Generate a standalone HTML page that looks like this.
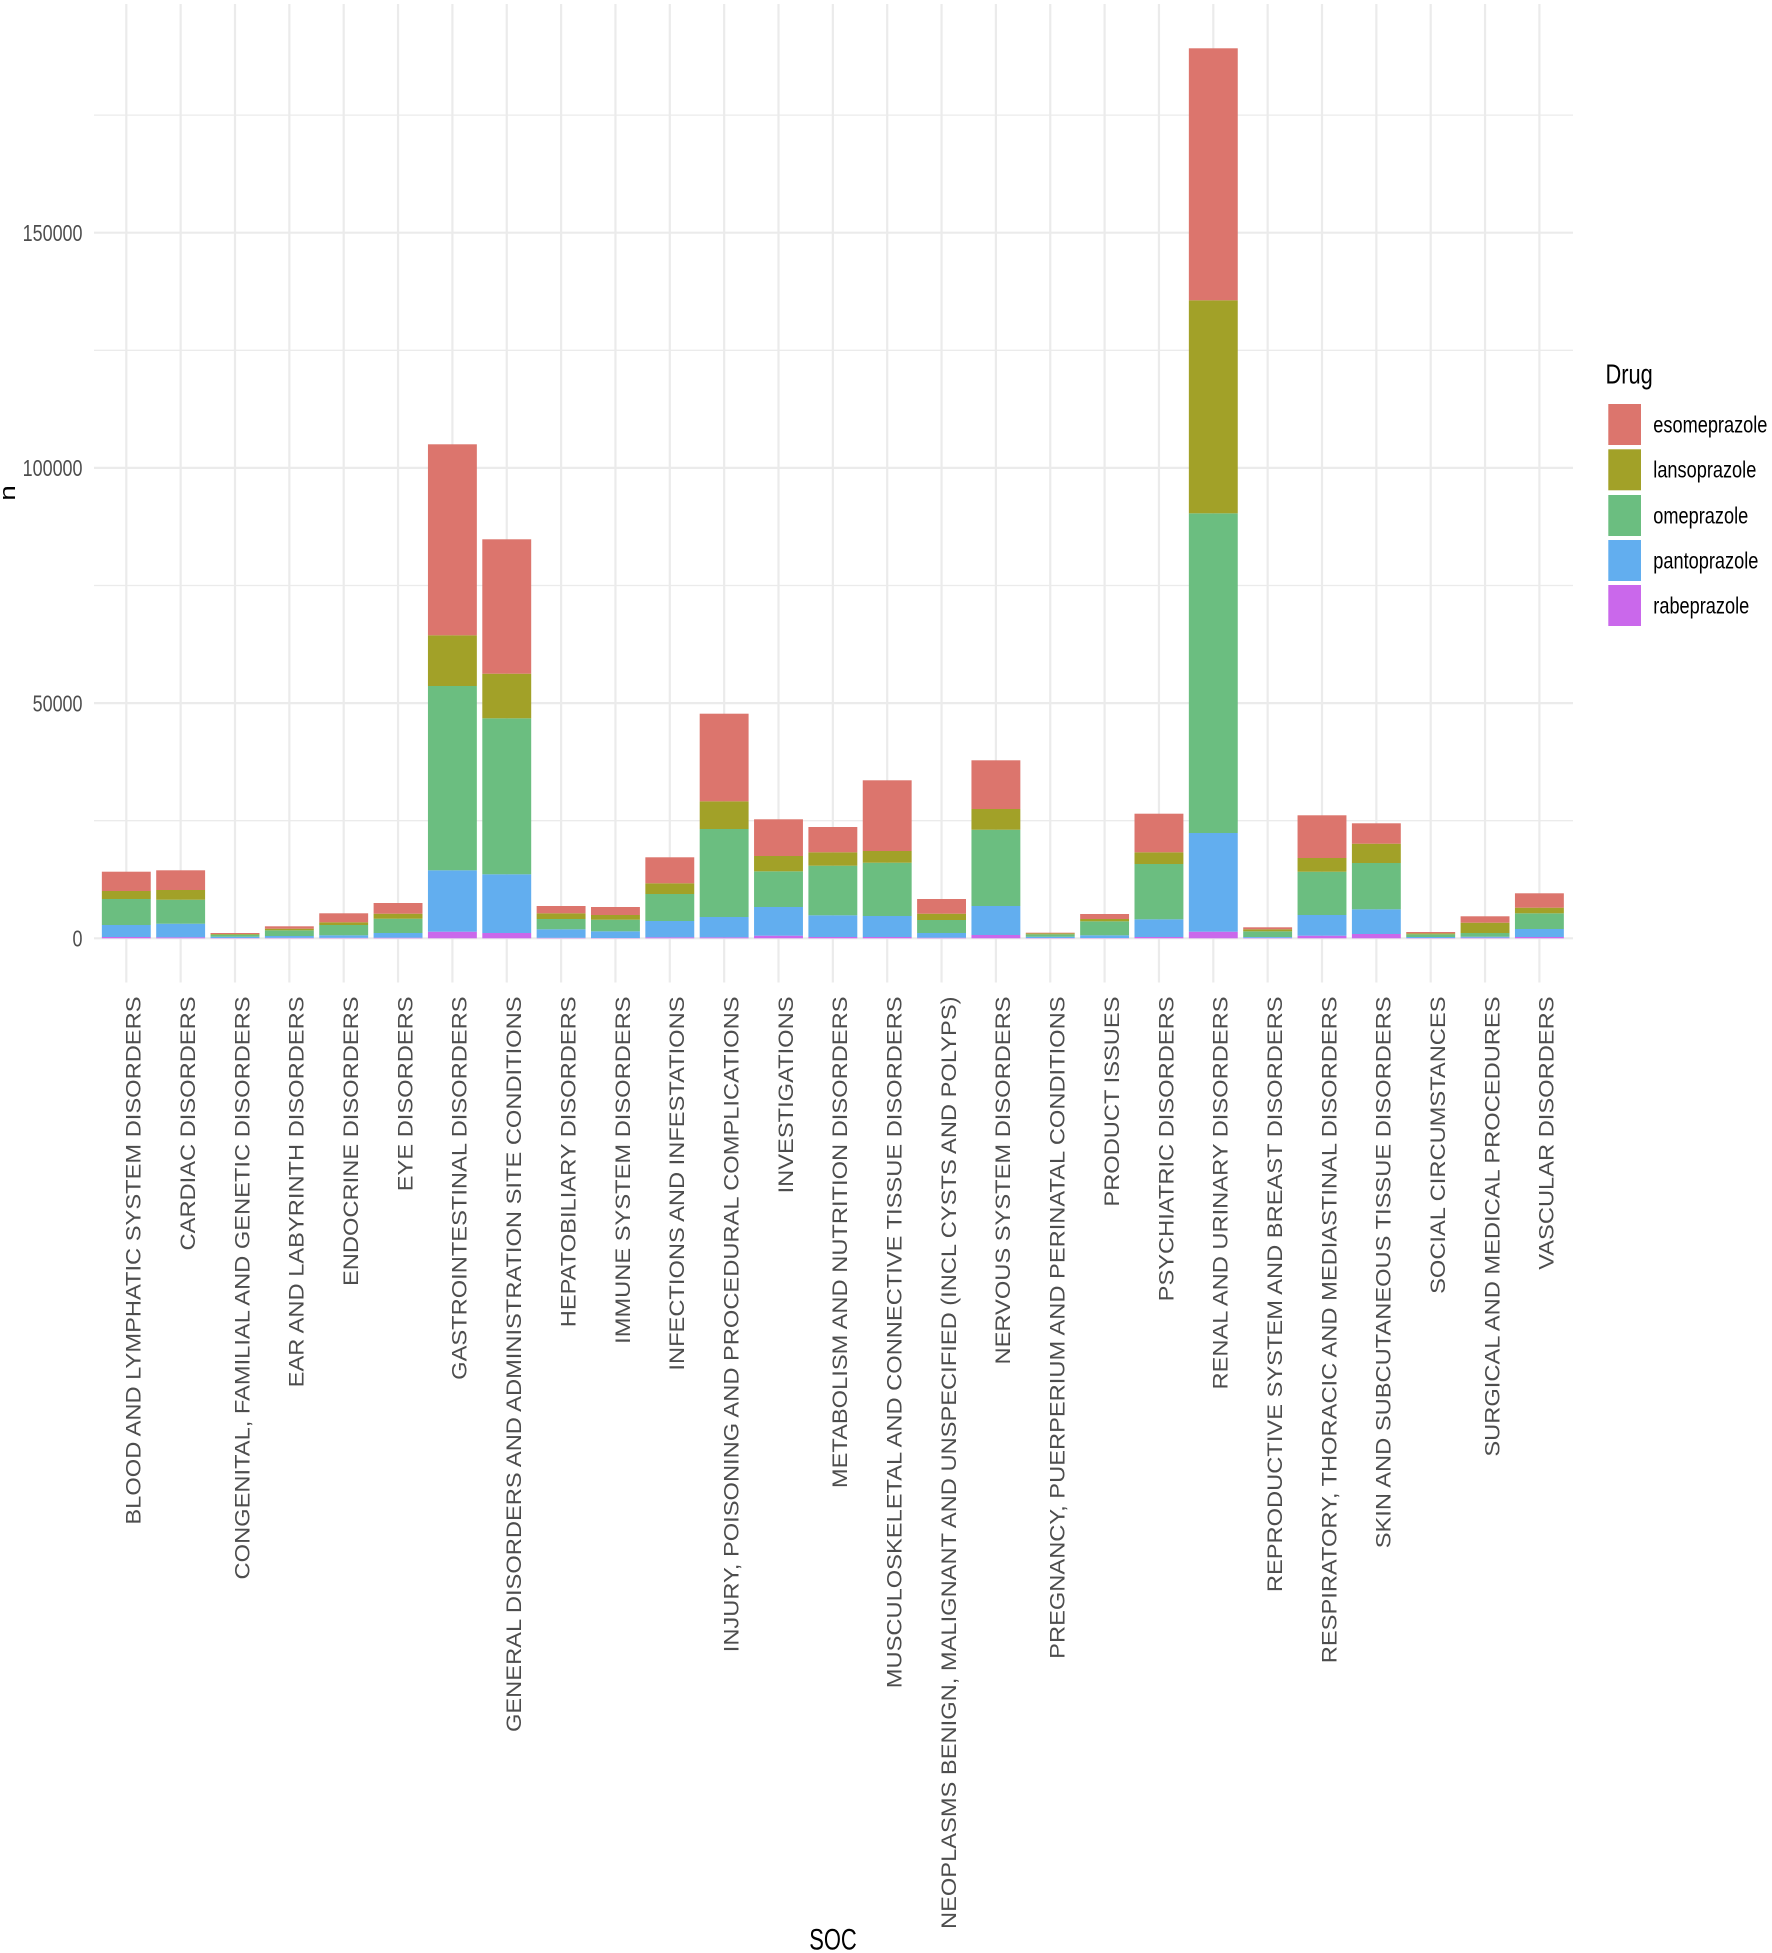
<!DOCTYPE html>
<html>
<head>
<meta charset="utf-8">
<style>
html,body{margin:0;padding:0;background:#fff;}
svg{display:block;}
text{font-family:"Liberation Sans",Arial,sans-serif;}
</style>
</head>
<body>
<svg width="1772" height="1953" viewBox="0 0 1772 1953" xmlns="http://www.w3.org/2000/svg">
<rect x="0" y="0" width="1772" height="1953" fill="#ffffff"/>
<!-- minor horizontal gridlines -->
<g stroke="#EBEBEB" stroke-width="1.3">
<line x1="94" x2="1573" y1="820.7" y2="820.7"/>
<line x1="94" x2="1573" y1="585.5" y2="585.5"/>
<line x1="94" x2="1573" y1="350.3" y2="350.3"/>
<line x1="94" x2="1573" y1="115.1" y2="115.1"/>
</g>
<!-- major horizontal gridlines -->
<g stroke="#EBEBEB" stroke-width="2.2">
<line x1="94" x2="1573" y1="938.3" y2="938.3"/>
<line x1="94" x2="1573" y1="703.1" y2="703.1"/>
<line x1="94" x2="1573" y1="467.9" y2="467.9"/>
<line x1="94" x2="1573" y1="232.7" y2="232.7"/>
</g>
<!-- vertical gridlines -->
<g stroke="#EBEBEB" stroke-width="2.2">
<line y1="4" y2="982.5" x1="126.3" x2="126.3"/>
<line y1="4" y2="982.5" x1="180.65" x2="180.65"/>
<line y1="4" y2="982.5" x1="235" x2="235"/>
<line y1="4" y2="982.5" x1="289.35" x2="289.35"/>
<line y1="4" y2="982.5" x1="343.7" x2="343.7"/>
<line y1="4" y2="982.5" x1="398.05" x2="398.05"/>
<line y1="4" y2="982.5" x1="452.4" x2="452.4"/>
<line y1="4" y2="982.5" x1="506.75" x2="506.75"/>
<line y1="4" y2="982.5" x1="561.1" x2="561.1"/>
<line y1="4" y2="982.5" x1="615.45" x2="615.45"/>
<line y1="4" y2="982.5" x1="669.8" x2="669.8"/>
<line y1="4" y2="982.5" x1="724.15" x2="724.15"/>
<line y1="4" y2="982.5" x1="778.5" x2="778.5"/>
<line y1="4" y2="982.5" x1="832.85" x2="832.85"/>
<line y1="4" y2="982.5" x1="887.2" x2="887.2"/>
<line y1="4" y2="982.5" x1="941.55" x2="941.55"/>
<line y1="4" y2="982.5" x1="995.9" x2="995.9"/>
<line y1="4" y2="982.5" x1="1050.25" x2="1050.25"/>
<line y1="4" y2="982.5" x1="1104.6" x2="1104.6"/>
<line y1="4" y2="982.5" x1="1158.95" x2="1158.95"/>
<line y1="4" y2="982.5" x1="1213.3" x2="1213.3"/>
<line y1="4" y2="982.5" x1="1267.65" x2="1267.65"/>
<line y1="4" y2="982.5" x1="1322" x2="1322"/>
<line y1="4" y2="982.5" x1="1376.35" x2="1376.35"/>
<line y1="4" y2="982.5" x1="1430.7" x2="1430.7"/>
<line y1="4" y2="982.5" x1="1485.05" x2="1485.05"/>
<line y1="4" y2="982.5" x1="1539.4" x2="1539.4"/>
</g>

<!-- bars (flipped coords: y = value from baseline) -->
<g transform="matrix(1 0 0 -1 0 938.3)">
<!-- 1 -->
<rect x="101.85" width="48.9" y="0" height="1.3" fill="#CA68EB"/>
<rect x="101.85" width="48.9" y="1.3" height="12" fill="#62AEEF"/>
<rect x="101.85" width="48.9" y="13.3" height="26" fill="#6BBE80"/>
<rect x="101.85" width="48.9" y="39.3" height="8" fill="#A2A128"/>
<rect x="101.85" width="48.9" y="47.3" height="19.3" fill="#DC756D"/>
<!-- 2 -->
<rect x="156.2" width="48.9" y="0" height="1" fill="#CA68EB"/>
<rect x="156.2" width="48.9" y="1" height="13.6" fill="#62AEEF"/>
<rect x="156.2" width="48.9" y="14.6" height="24" fill="#6BBE80"/>
<rect x="156.2" width="48.9" y="38.6" height="9.7" fill="#A2A128"/>
<rect x="156.2" width="48.9" y="48.3" height="19.7" fill="#DC756D"/>
<!-- 3 -->
<rect x="210.55" width="48.9" y="0" height="0.3" fill="#CA68EB"/>
<rect x="210.55" width="48.9" y="0.3" height="1.3" fill="#62AEEF"/>
<rect x="210.55" width="48.9" y="1.6" height="2" fill="#6BBE80"/>
<rect x="210.55" width="48.9" y="3.6" height="0.7" fill="#A2A128"/>
<rect x="210.55" width="48.9" y="4.3" height="1" fill="#DC756D"/>
<!-- 4 -->
<rect x="264.9" width="48.9" y="0" height="0.5" fill="#CA68EB"/>
<rect x="264.9" width="48.9" y="0.5" height="1.8" fill="#62AEEF"/>
<rect x="264.9" width="48.9" y="2.3" height="5.7" fill="#6BBE80"/>
<rect x="264.9" width="48.9" y="8" height="1.6" fill="#A2A128"/>
<rect x="264.9" width="48.9" y="9.6" height="2.4" fill="#DC756D"/>
<!-- 5 -->
<rect x="319.25" width="48.9" y="0" height="0.5" fill="#CA68EB"/>
<rect x="319.25" width="48.9" y="0.5" height="2.5" fill="#62AEEF"/>
<rect x="319.25" width="48.9" y="3" height="10.3" fill="#6BBE80"/>
<rect x="319.25" width="48.9" y="13.3" height="2.7" fill="#A2A128"/>
<rect x="319.25" width="48.9" y="16" height="9" fill="#DC756D"/>
<!-- 6 -->
<rect x="373.6" width="48.9" y="0" height="0.6" fill="#CA68EB"/>
<rect x="373.6" width="48.9" y="0.6" height="4.7" fill="#62AEEF"/>
<rect x="373.6" width="48.9" y="5.3" height="14.3" fill="#6BBE80"/>
<rect x="373.6" width="48.9" y="19.6" height="5" fill="#A2A128"/>
<rect x="373.6" width="48.9" y="24.6" height="10.7" fill="#DC756D"/>
<!-- 7 -->
<rect x="427.95" width="48.9" y="0" height="6.6" fill="#CA68EB"/>
<rect x="427.95" width="48.9" y="6.6" height="61.4" fill="#62AEEF"/>
<rect x="427.95" width="48.9" y="68" height="184.3" fill="#6BBE80"/>
<rect x="427.95" width="48.9" y="252.3" height="50.7" fill="#A2A128"/>
<rect x="427.95" width="48.9" y="303" height="191" fill="#DC756D"/>
<!-- 8 -->
<rect x="482.3" width="48.9" y="0" height="5.3" fill="#CA68EB"/>
<rect x="482.3" width="48.9" y="5.3" height="58.7" fill="#62AEEF"/>
<rect x="482.3" width="48.9" y="64" height="156" fill="#6BBE80"/>
<rect x="482.3" width="48.9" y="220" height="44.6" fill="#A2A128"/>
<rect x="482.3" width="48.9" y="264.6" height="134.4" fill="#DC756D"/>
<!-- 9 -->
<rect x="536.65" width="48.9" y="0" height="0.5" fill="#CA68EB"/>
<rect x="536.65" width="48.9" y="0.5" height="8.5" fill="#62AEEF"/>
<rect x="536.65" width="48.9" y="9" height="10.3" fill="#6BBE80"/>
<rect x="536.65" width="48.9" y="19.3" height="5.7" fill="#A2A128"/>
<rect x="536.65" width="48.9" y="25" height="7.3" fill="#DC756D"/>
<!-- 10 -->
<rect x="591" width="48.9" y="0" height="0.3" fill="#CA68EB"/>
<rect x="591" width="48.9" y="0.3" height="6.7" fill="#62AEEF"/>
<rect x="591" width="48.9" y="7" height="11.6" fill="#6BBE80"/>
<rect x="591" width="48.9" y="18.6" height="4.7" fill="#A2A128"/>
<rect x="591" width="48.9" y="23.3" height="8" fill="#DC756D"/>
<!-- 11 -->
<rect x="645.35" width="48.9" y="0" height="1" fill="#CA68EB"/>
<rect x="645.35" width="48.9" y="1" height="16.3" fill="#62AEEF"/>
<rect x="645.35" width="48.9" y="17.3" height="27" fill="#6BBE80"/>
<rect x="645.35" width="48.9" y="44.3" height="10.7" fill="#A2A128"/>
<rect x="645.35" width="48.9" y="55" height="26" fill="#DC756D"/>
<!-- 12 -->
<rect x="699.7" width="48.9" y="0" height="1" fill="#CA68EB"/>
<rect x="699.7" width="48.9" y="1" height="20.3" fill="#62AEEF"/>
<rect x="699.7" width="48.9" y="21.3" height="88" fill="#6BBE80"/>
<rect x="699.7" width="48.9" y="109.3" height="27.7" fill="#A2A128"/>
<rect x="699.7" width="48.9" y="137" height="87.6" fill="#DC756D"/>
<!-- 13 -->
<rect x="754.05" width="48.9" y="0" height="2.6" fill="#CA68EB"/>
<rect x="754.05" width="48.9" y="2.6" height="28.7" fill="#62AEEF"/>
<rect x="754.05" width="48.9" y="31.3" height="35.7" fill="#6BBE80"/>
<rect x="754.05" width="48.9" y="67" height="15.3" fill="#A2A128"/>
<rect x="754.05" width="48.9" y="82.3" height="36.7" fill="#DC756D"/>
<!-- 14 -->
<rect x="808.4" width="48.9" y="0" height="1.3" fill="#CA68EB"/>
<rect x="808.4" width="48.9" y="1.3" height="21.7" fill="#62AEEF"/>
<rect x="808.4" width="48.9" y="23" height="49.6" fill="#6BBE80"/>
<rect x="808.4" width="48.9" y="72.6" height="13.4" fill="#A2A128"/>
<rect x="808.4" width="48.9" y="86" height="25.3" fill="#DC756D"/>
<!-- 15 -->
<rect x="862.75" width="48.9" y="0" height="1.3" fill="#CA68EB"/>
<rect x="862.75" width="48.9" y="1.3" height="21" fill="#62AEEF"/>
<rect x="862.75" width="48.9" y="22.3" height="53.3" fill="#6BBE80"/>
<rect x="862.75" width="48.9" y="75.6" height="11.7" fill="#A2A128"/>
<rect x="862.75" width="48.9" y="87.3" height="70.7" fill="#DC756D"/>
<!-- 16 -->
<rect x="917.1" width="48.9" y="0" height="0.6" fill="#CA68EB"/>
<rect x="917.1" width="48.9" y="0.6" height="4.7" fill="#62AEEF"/>
<rect x="917.1" width="48.9" y="5.3" height="13" fill="#6BBE80"/>
<rect x="917.1" width="48.9" y="18.3" height="6.3" fill="#A2A128"/>
<rect x="917.1" width="48.9" y="24.6" height="14.7" fill="#DC756D"/>
<!-- 17 -->
<rect x="971.45" width="48.9" y="0" height="3.3" fill="#CA68EB"/>
<rect x="971.45" width="48.9" y="3.3" height="29" fill="#62AEEF"/>
<rect x="971.45" width="48.9" y="32.3" height="76.3" fill="#6BBE80"/>
<rect x="971.45" width="48.9" y="108.6" height="20.7" fill="#A2A128"/>
<rect x="971.45" width="48.9" y="129.3" height="48.7" fill="#DC756D"/>
<!-- 18 -->
<rect x="1025.8" width="48.9" y="0" height="0.3" fill="#CA68EB"/>
<rect x="1025.8" width="48.9" y="0.3" height="1.3" fill="#62AEEF"/>
<rect x="1025.8" width="48.9" y="1.6" height="2.4" fill="#6BBE80"/>
<rect x="1025.8" width="48.9" y="4" height="1" fill="#A2A128"/>
<rect x="1025.8" width="48.9" y="5" height="0.6" fill="#DC756D"/>
<!-- 19 -->
<rect x="1080.15" width="48.9" y="0" height="0.3" fill="#CA68EB"/>
<rect x="1080.15" width="48.9" y="0.3" height="2.7" fill="#62AEEF"/>
<rect x="1080.15" width="48.9" y="3" height="14" fill="#6BBE80"/>
<rect x="1080.15" width="48.9" y="17" height="2.3" fill="#A2A128"/>
<rect x="1080.15" width="48.9" y="19.3" height="5" fill="#DC756D"/>
<!-- 20 -->
<rect x="1134.5" width="48.9" y="0" height="1.3" fill="#CA68EB"/>
<rect x="1134.5" width="48.9" y="1.3" height="17.7" fill="#62AEEF"/>
<rect x="1134.5" width="48.9" y="19" height="55.3" fill="#6BBE80"/>
<rect x="1134.5" width="48.9" y="74.3" height="11.7" fill="#A2A128"/>
<rect x="1134.5" width="48.9" y="86" height="38.6" fill="#DC756D"/>
<!-- 21 -->
<rect x="1188.85" width="48.9" y="0" height="6.6" fill="#CA68EB"/>
<rect x="1188.85" width="48.9" y="6.6" height="98.7" fill="#62AEEF"/>
<rect x="1188.85" width="48.9" y="105.3" height="319.7" fill="#6BBE80"/>
<rect x="1188.85" width="48.9" y="425" height="213" fill="#A2A128"/>
<rect x="1188.85" width="48.9" y="638" height="252" fill="#DC756D"/>
<!-- 22 -->
<rect x="1243.2" width="48.9" y="0" height="0.5" fill="#CA68EB"/>
<rect x="1243.2" width="48.9" y="0.5" height="0.8" fill="#62AEEF"/>
<rect x="1243.2" width="48.9" y="1.3" height="5.7" fill="#6BBE80"/>
<rect x="1243.2" width="48.9" y="7" height="2" fill="#A2A128"/>
<rect x="1243.2" width="48.9" y="9" height="2" fill="#DC756D"/>
<!-- 23 -->
<rect x="1297.55" width="48.9" y="0" height="2.6" fill="#CA68EB"/>
<rect x="1297.55" width="48.9" y="2.6" height="20.7" fill="#62AEEF"/>
<rect x="1297.55" width="48.9" y="23.3" height="43.3" fill="#6BBE80"/>
<rect x="1297.55" width="48.9" y="66.6" height="13.7" fill="#A2A128"/>
<rect x="1297.55" width="48.9" y="80.3" height="42.7" fill="#DC756D"/>
<!-- 24 -->
<rect x="1351.9" width="48.9" y="0" height="4.3" fill="#CA68EB"/>
<rect x="1351.9" width="48.9" y="4.3" height="24.7" fill="#62AEEF"/>
<rect x="1351.9" width="48.9" y="29" height="46.3" fill="#6BBE80"/>
<rect x="1351.9" width="48.9" y="75.3" height="19.3" fill="#A2A128"/>
<rect x="1351.9" width="48.9" y="94.6" height="20.4" fill="#DC756D"/>
<!-- 25 -->
<rect x="1406.25" width="48.9" y="0" height="0.3" fill="#CA68EB"/>
<rect x="1406.25" width="48.9" y="0.3" height="1" fill="#62AEEF"/>
<rect x="1406.25" width="48.9" y="1.3" height="2.7" fill="#6BBE80"/>
<rect x="1406.25" width="48.9" y="4" height="1" fill="#A2A128"/>
<rect x="1406.25" width="48.9" y="5" height="1.3" fill="#DC756D"/>
<!-- 26 -->
<rect x="1460.6" width="48.9" y="0" height="0.6" fill="#CA68EB"/>
<rect x="1460.6" width="48.9" y="0.6" height="1" fill="#62AEEF"/>
<rect x="1460.6" width="48.9" y="1.6" height="3.7" fill="#6BBE80"/>
<rect x="1460.6" width="48.9" y="5.3" height="10.3" fill="#A2A128"/>
<rect x="1460.6" width="48.9" y="15.6" height="6.4" fill="#DC756D"/>
<!-- 27 -->
<rect x="1514.95" width="48.9" y="0" height="1.3" fill="#CA68EB"/>
<rect x="1514.95" width="48.9" y="1.3" height="8" fill="#62AEEF"/>
<rect x="1514.95" width="48.9" y="9.3" height="15.7" fill="#6BBE80"/>
<rect x="1514.95" width="48.9" y="25" height="5.6" fill="#A2A128"/>
<rect x="1514.95" width="48.9" y="30.6" height="14.4" fill="#DC756D"/>
</g>

<!-- y tick labels -->
<g fill="#4D4D4D" font-size="23.3" text-anchor="end">
<text transform="translate(82.5,946.6) scale(0.77,1)">0</text>
<text transform="translate(82.5,711.4) scale(0.77,1)">50000</text>
<text transform="translate(82.5,476.2) scale(0.77,1)">100000</text>
<text transform="translate(82.5,241) scale(0.77,1)">150000</text>
</g>

<!-- x tick labels -->
<g fill="#4D4D4D" font-size="23.7" text-anchor="end">
<text transform="translate(140.6,996.5) rotate(-90) scale(1,0.91)">BLOOD AND LYMPHATIC SYSTEM DISORDERS</text>
<text transform="translate(194.95,996.5) rotate(-90) scale(1,0.91)">CARDIAC DISORDERS</text>
<text transform="translate(249.3,996.5) rotate(-90) scale(1,0.91)">CONGENITAL, FAMILIAL AND GENETIC DISORDERS</text>
<text transform="translate(303.65,996.5) rotate(-90) scale(1,0.91)">EAR AND LABYRINTH DISORDERS</text>
<text transform="translate(358,996.5) rotate(-90) scale(1,0.91)">ENDOCRINE DISORDERS</text>
<text transform="translate(412.35,996.5) rotate(-90) scale(1,0.91)">EYE DISORDERS</text>
<text transform="translate(466.7,996.5) rotate(-90) scale(1,0.91)">GASTROINTESTINAL DISORDERS</text>
<text transform="translate(521.05,996.5) rotate(-90) scale(1,0.91)">GENERAL DISORDERS AND ADMINISTRATION SITE CONDITIONS</text>
<text transform="translate(575.4,996.5) rotate(-90) scale(1,0.91)">HEPATOBILIARY DISORDERS</text>
<text transform="translate(629.75,996.5) rotate(-90) scale(1,0.91)">IMMUNE SYSTEM DISORDERS</text>
<text transform="translate(684.1,996.5) rotate(-90) scale(1,0.91)">INFECTIONS AND INFESTATIONS</text>
<text transform="translate(738.45,996.5) rotate(-90) scale(1,0.91)">INJURY, POISONING AND PROCEDURAL COMPLICATIONS</text>
<text transform="translate(792.8,996.5) rotate(-90) scale(1,0.91)">INVESTIGATIONS</text>
<text transform="translate(847.15,996.5) rotate(-90) scale(1,0.91)">METABOLISM AND NUTRITION DISORDERS</text>
<text transform="translate(901.5,996.5) rotate(-90) scale(1,0.91)">MUSCULOSKELETAL AND CONNECTIVE TISSUE DISORDERS</text>
<text transform="translate(955.85,996.5) rotate(-90) scale(1,0.91)">NEOPLASMS BENIGN, MALIGNANT AND UNSPECIFIED (INCL CYSTS AND POLYPS)</text>
<text transform="translate(1010.2,996.5) rotate(-90) scale(1,0.91)">NERVOUS SYSTEM DISORDERS</text>
<text transform="translate(1064.55,996.5) rotate(-90) scale(1,0.91)">PREGNANCY, PUERPERIUM AND PERINATAL CONDITIONS</text>
<text transform="translate(1118.9,996.5) rotate(-90) scale(1,0.91)">PRODUCT ISSUES</text>
<text transform="translate(1173.25,996.5) rotate(-90) scale(1,0.91)">PSYCHIATRIC DISORDERS</text>
<text transform="translate(1227.6,996.5) rotate(-90) scale(1,0.91)">RENAL AND URINARY DISORDERS</text>
<text transform="translate(1281.95,996.5) rotate(-90) scale(1,0.91)">REPRODUCTIVE SYSTEM AND BREAST DISORDERS</text>
<text transform="translate(1336.3,996.5) rotate(-90) scale(1,0.91)">RESPIRATORY, THORACIC AND MEDIASTINAL DISORDERS</text>
<text transform="translate(1390.65,996.5) rotate(-90) scale(1,0.91)">SKIN AND SUBCUTANEOUS TISSUE DISORDERS</text>
<text transform="translate(1445,996.5) rotate(-90) scale(1,0.91)">SOCIAL CIRCUMSTANCES</text>
<text transform="translate(1499.35,996.5) rotate(-90) scale(1,0.91)">SURGICAL AND MEDICAL PROCEDURES</text>
<text transform="translate(1553.7,996.5) rotate(-90) scale(1,0.91)">VASCULAR DISORDERS</text>
</g>

<!-- axis titles -->
<text fill="#000" font-size="29.3" text-anchor="middle" transform="translate(833,1949.3) scale(0.75,1)">SOC</text>
<text fill="#000" font-size="28" text-anchor="middle" transform="translate(15,493) rotate(-90) scale(1,0.8)">n</text>

<!-- legend -->
<text fill="#000" font-size="28" transform="translate(1605.5,383.3) scale(0.78,1)">Drug</text>
<rect x="1608.3" y="404" width="32.7" height="41" fill="#DC756D"/>
<rect x="1608.3" y="449.3" width="32.7" height="41" fill="#A2A128"/>
<rect x="1608.3" y="495" width="32.7" height="41" fill="#6BBE80"/>
<rect x="1608.3" y="540" width="32.7" height="41" fill="#62AEEF"/>
<rect x="1608.3" y="585" width="32.7" height="41" fill="#CA68EB"/>
<g fill="#000" font-size="23">
<text transform="translate(1653.3,432.3) scale(0.79,1)">esomeprazole</text>
<text transform="translate(1653.3,477.6) scale(0.79,1)">lansoprazole</text>
<text transform="translate(1653.3,523.3) scale(0.79,1)">omeprazole</text>
<text transform="translate(1653.3,568.3) scale(0.79,1)">pantoprazole</text>
<text transform="translate(1653.3,613.3) scale(0.79,1)">rabeprazole</text>
</g>
</svg>
</body>
</html>
